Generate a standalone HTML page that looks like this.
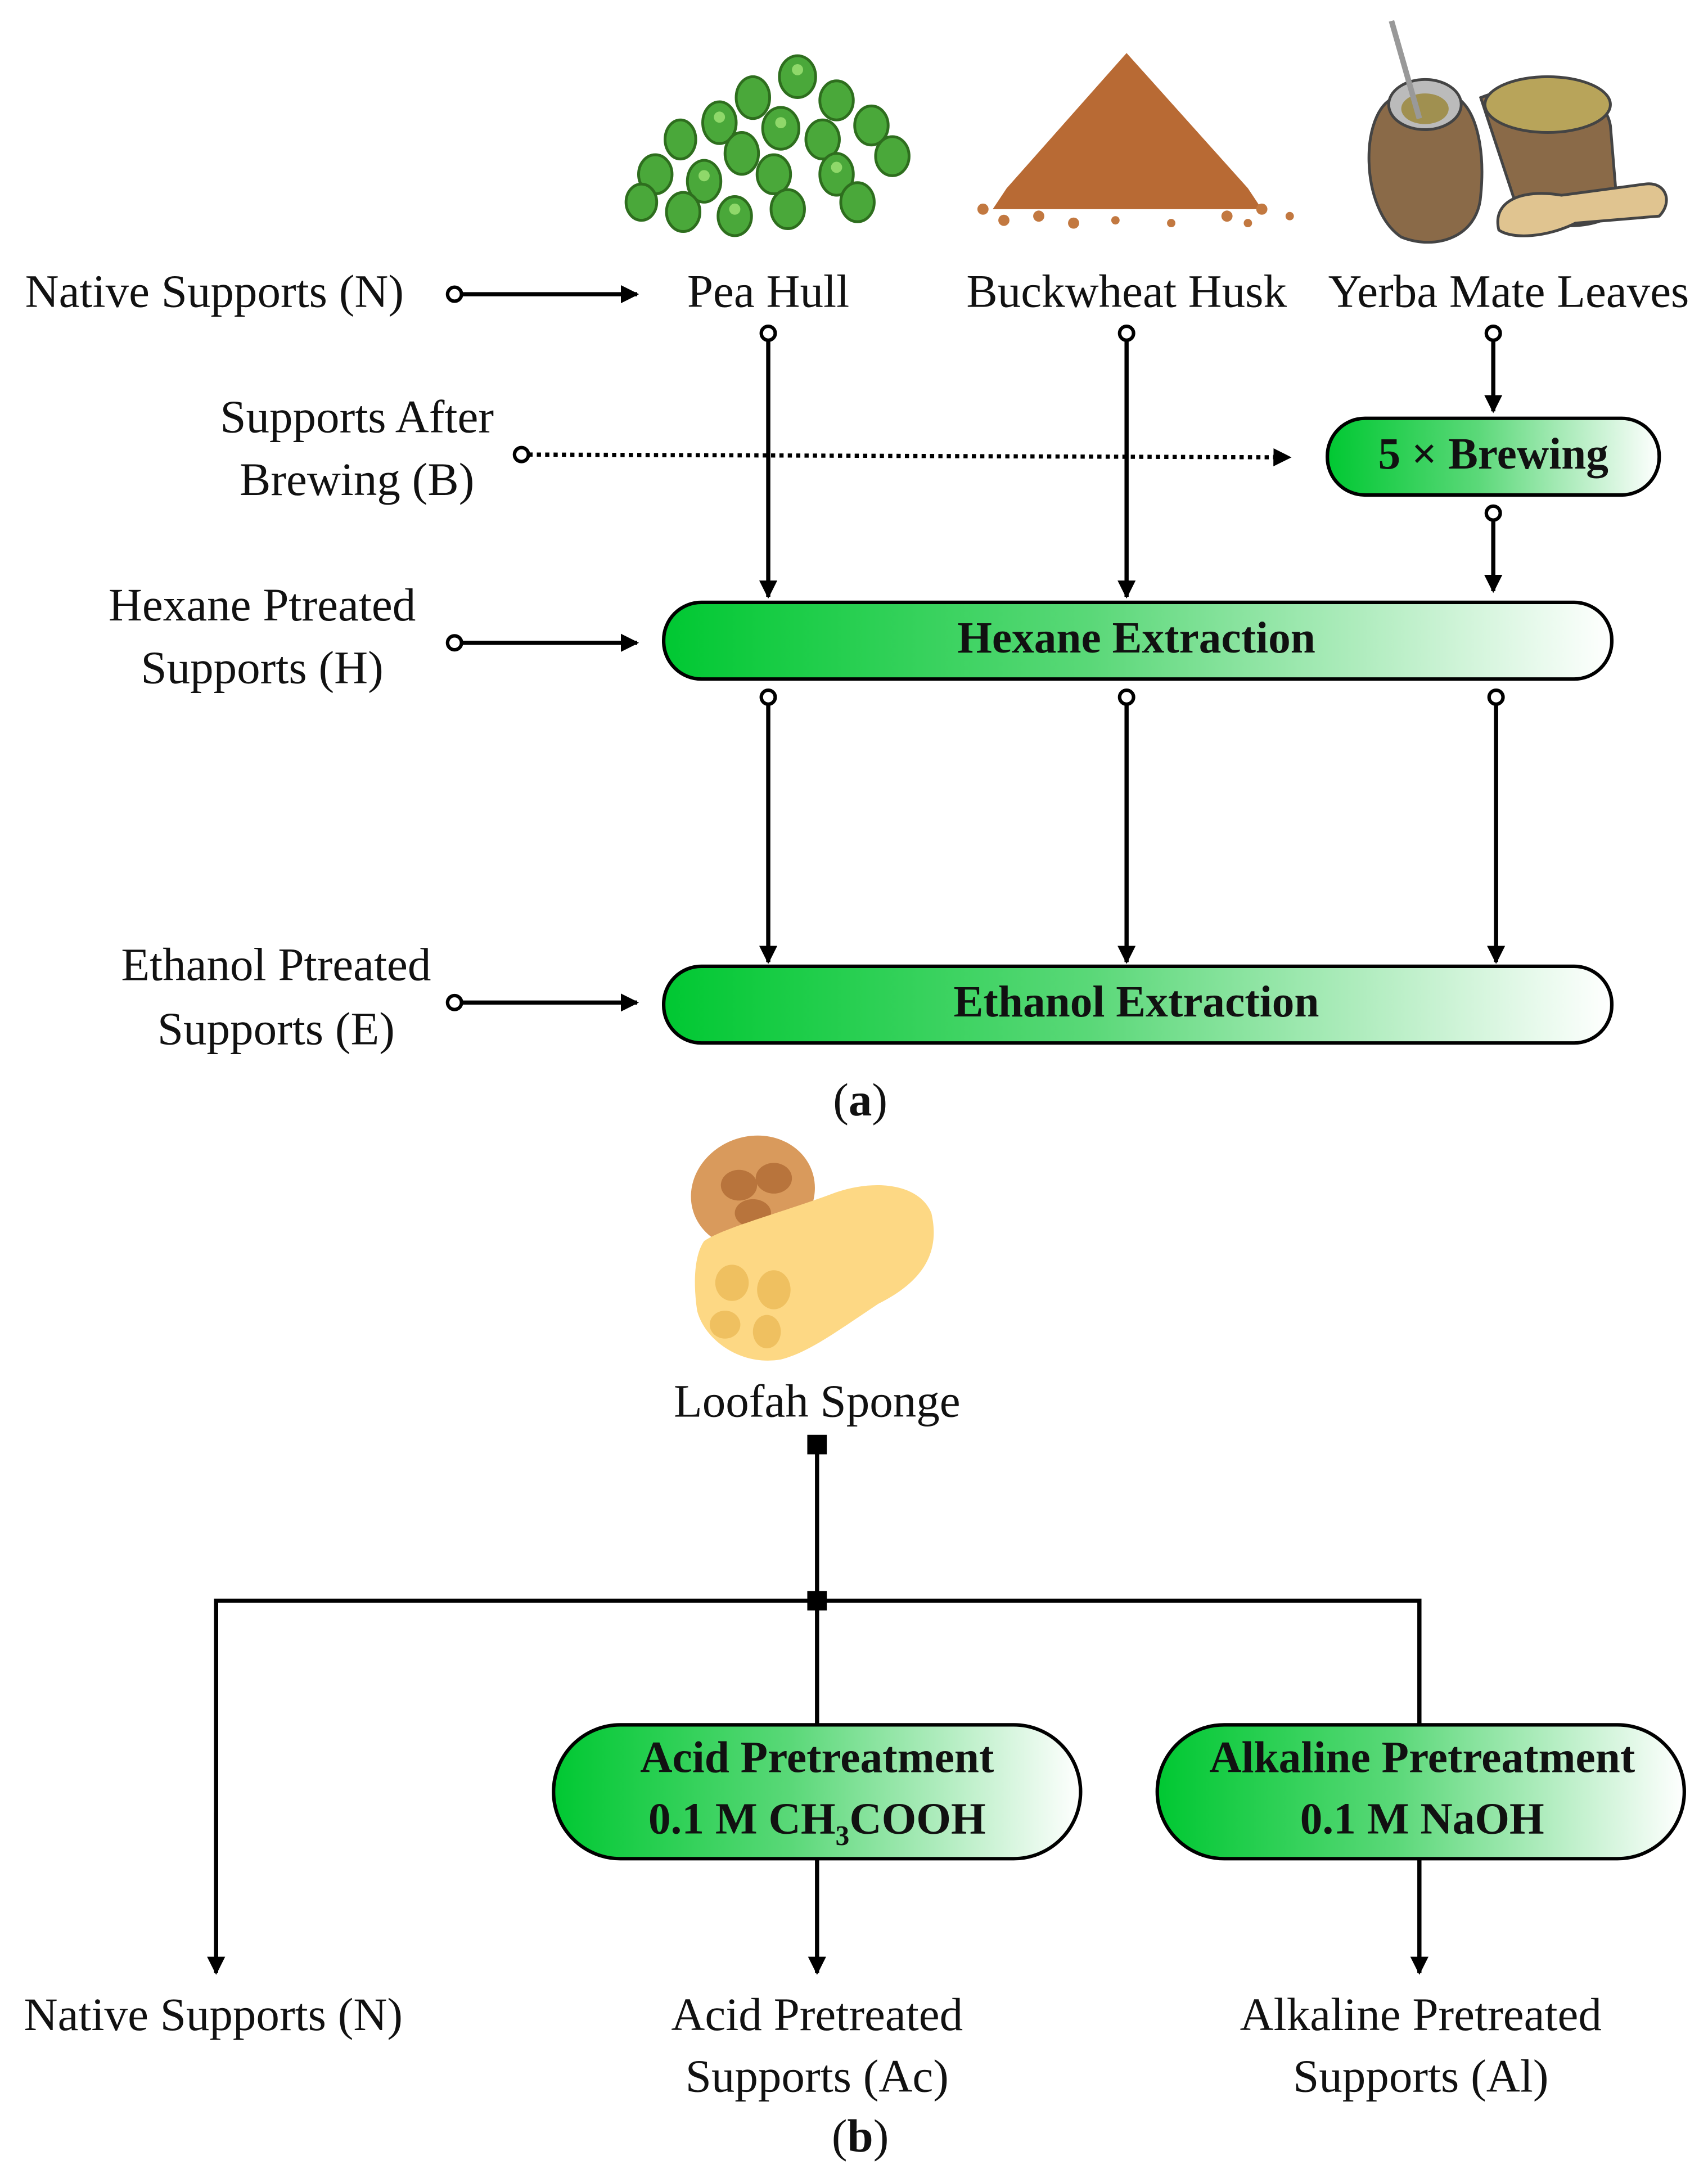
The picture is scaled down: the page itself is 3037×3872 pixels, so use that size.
<!DOCTYPE html>
<html><head><meta charset="utf-8"><style>
html,body{margin:0;padding:0;background:#fff;}
svg{display:block;}
text{font-family:"Liberation Serif",serif;fill:#111;}
.t{font-size:33.5px;}
.b{font-size:32px;font-weight:bold;}
</style></head><body>
<svg width="3037" height="3872" viewBox="0 0 1225 1562" preserveAspectRatio="none" xmlns="http://www.w3.org/2000/svg">
<defs>
<linearGradient id="g" x1="0" x2="1" y1="0" y2="0">
<stop offset="0" stop-color="#00c832"/><stop offset="0.45" stop-color="#5ad878"/><stop offset="1" stop-color="#ffffff"/>
</linearGradient>
<marker id="ah" viewBox="0 0 10 10" refX="9" refY="5" markerWidth="13" markerHeight="13" orient="auto" markerUnits="userSpaceOnUse"><path d="M0,0 L10,5 L0,10 z" fill="#000"/></marker>
</defs>
<rect width="1225" height="1562" fill="#fff"/>

<!-- peas -->
<g stroke="#2e6e1e" stroke-width="2" fill="#4aa83a">
<ellipse cx="572" cy="55" rx="13" ry="15"/><ellipse cx="540" cy="70" rx="12" ry="15"/><ellipse cx="600" cy="72" rx="12" ry="14"/>
<ellipse cx="516" cy="88" rx="12" ry="15"/><ellipse cx="560" cy="92" rx="13" ry="15"/><ellipse cx="590" cy="100" rx="12" ry="14"/><ellipse cx="625" cy="90" rx="12" ry="14"/>
<ellipse cx="488" cy="100" rx="11" ry="14"/><ellipse cx="532" cy="110" rx="12" ry="15"/><ellipse cx="640" cy="112" rx="12" ry="14"/>
<ellipse cx="470" cy="125" rx="12" ry="14"/><ellipse cx="505" cy="130" rx="12" ry="15"/><ellipse cx="555" cy="125" rx="12" ry="14"/><ellipse cx="600" cy="125" rx="12" ry="15"/>
<ellipse cx="460" cy="145" rx="11" ry="13"/><ellipse cx="490" cy="152" rx="12" ry="14"/><ellipse cx="527" cy="155" rx="12" ry="14"/><ellipse cx="565" cy="150" rx="12" ry="14"/><ellipse cx="615" cy="145" rx="12" ry="14"/>
</g>
<g fill="#8fd86a"><circle cx="572" cy="50" r="4"/><circle cx="516" cy="84" r="4"/><circle cx="560" cy="88" r="4"/><circle cx="505" cy="126" r="4"/><circle cx="600" cy="120" r="4"/><circle cx="527" cy="150" r="4"/></g>

<!-- buckwheat -->
<path d="M808,38 L895,135 L905,150 L712,150 L722,135 Z" fill="#b86a34"/>
<g fill="#c27840"><circle cx="705" cy="150" r="4"/><circle cx="720" cy="158" r="4"/><circle cx="745" cy="155" r="4"/><circle cx="770" cy="160" r="4"/><circle cx="800" cy="158" r="3"/><circle cx="840" cy="160" r="3"/><circle cx="880" cy="155" r="4"/><circle cx="905" cy="150" r="4"/><circle cx="895" cy="160" r="3"/><circle cx="925" cy="155" r="3"/></g>

<!-- yerba mate -->
<path d="M1062,70 C1100,55 1150,60 1155,90 L1160,150 C1150,165 1110,165 1090,155 Z" fill="#8a6a48" stroke="#444" stroke-width="2"/>
<ellipse cx="1110" cy="75" rx="45" ry="20" fill="#b8a45a" stroke="#444" stroke-width="2"/>
<path d="M1000,70 C975,80 975,150 1005,170 C1030,180 1060,170 1062,140 C1065,110 1060,80 1045,70 Z" fill="#8a6a48" stroke="#444" stroke-width="2"/>
<ellipse cx="1022" cy="75" rx="26" ry="18" fill="#bbb" stroke="#444" stroke-width="2"/>
<ellipse cx="1022" cy="78" rx="17" ry="11" fill="#a09050"/>
<line x1="998" y1="15" x2="1018" y2="85" stroke="#999" stroke-width="4"/>
<path d="M1075,165 C1070,145 1090,135 1120,140 L1180,132 C1195,130 1200,145 1190,155 L1130,160 C1110,170 1085,172 1075,165 Z" fill="#e0c490" stroke="#444" stroke-width="2"/>

<!-- top labels -->
<text class="t" x="18" y="220">Native Supports (N)</text>
<text class="t" x="551" y="220" text-anchor="middle">Pea Hull</text>
<text class="t" x="808" y="220" text-anchor="middle">Buckwheat Husk</text>
<text class="t" x="1082" y="220" text-anchor="middle">Yerba Mate Leaves</text>

<g stroke="#000" stroke-width="3" fill="none">
<line x1="330" y1="211" x2="457" y2="211" marker-end="url(#ah)"/>
<line x1="551" y1="244" x2="551" y2="428" marker-end="url(#ah)"/>
<line x1="808" y1="244" x2="808" y2="428" marker-end="url(#ah)"/>
<line x1="1071" y1="244" x2="1071" y2="295" marker-end="url(#ah)"/>
<line x1="379" y1="326" x2="925" y2="328" stroke-dasharray="3,3" marker-end="url(#ah)"/>
<line x1="1071" y1="373" x2="1071" y2="424" marker-end="url(#ah)"/>
<line x1="330" y1="461" x2="457" y2="461" marker-end="url(#ah)"/>
<line x1="551" y1="505" x2="551" y2="690" marker-end="url(#ah)"/>
<line x1="808" y1="505" x2="808" y2="690" marker-end="url(#ah)"/>
<line x1="1073" y1="505" x2="1073" y2="690" marker-end="url(#ah)"/>
<line x1="330" y1="719" x2="457" y2="719" marker-end="url(#ah)"/>
</g>
<g stroke="#000" stroke-width="2.5" fill="#fff">
<circle cx="326" cy="211" r="5"/><circle cx="551" cy="239" r="5"/><circle cx="808" cy="239" r="5"/><circle cx="1071" cy="239" r="5"/>
<circle cx="374" cy="326" r="5"/><circle cx="1071" cy="368" r="5"/><circle cx="326" cy="461" r="5"/>
<circle cx="551" cy="500" r="5"/><circle cx="808" cy="500" r="5"/><circle cx="1073" cy="500" r="5"/><circle cx="326" cy="719" r="5"/>
</g>

<text class="t" x="256" y="310" text-anchor="middle">Supports After</text>
<text class="t" x="256" y="355" text-anchor="middle">Brewing (B)</text>
<text class="t" x="188" y="445" text-anchor="middle">Hexane Ptreated</text>
<text class="t" x="188" y="490" text-anchor="middle">Supports (H)</text>
<text class="t" x="198" y="703" text-anchor="middle">Ethanol Ptreated</text>
<text class="t" x="198" y="749" text-anchor="middle">Supports (E)</text>

<rect x="952" y="300" width="238" height="55" rx="27" fill="url(#g)" stroke="#000" stroke-width="2.5"/>
<text class="b" x="1071" y="336" text-anchor="middle">5 × Brewing</text>
<rect x="476" y="432" width="680" height="55" rx="27" fill="url(#g)" stroke="#000" stroke-width="2.5"/>
<text class="b" x="815" y="468" text-anchor="middle">Hexane Extraction</text>
<rect x="476" y="693" width="680" height="55" rx="27" fill="url(#g)" stroke="#000" stroke-width="2.5"/>
<text class="b" x="815" y="729" text-anchor="middle">Ethanol Extraction</text>

<text class="t" x="617" y="800" text-anchor="middle">(<tspan font-weight="bold">a</tspan>)</text>

<!-- loofah -->
<ellipse cx="540" cy="855" rx="45" ry="40" fill="#d99a5c" transform="rotate(-20 540 855)"/>
<ellipse cx="530" cy="850" rx="13" ry="11" fill="#b8743c"/><ellipse cx="555" cy="845" rx="13" ry="11" fill="#b8743c"/><ellipse cx="540" cy="870" rx="13" ry="10" fill="#b8743c"/>
<path d="M505,890 C520,880 560,870 600,855 C630,845 660,850 668,870 C675,900 660,920 630,935 C600,955 580,970 560,975 C530,980 505,960 500,940 C497,920 498,900 505,890 Z" fill="#fdd884"/>
<g fill="#efc060"><ellipse cx="525" cy="920" rx="12" ry="13"/><ellipse cx="555" cy="925" rx="12" ry="14"/><ellipse cx="520" cy="950" rx="11" ry="10"/><ellipse cx="550" cy="955" rx="10" ry="12"/></g>

<text class="t" x="586" y="1016" text-anchor="middle">Loofah Sponge</text>

<g stroke="#000" stroke-width="3" fill="none">
<line x1="586" y1="1036" x2="586" y2="1148"/>
<polyline points="155,1412 155,1148 1018,1148 1018,1237"/>
<line x1="586" y1="1148" x2="586" y2="1237"/>
<line x1="155" y1="1300" x2="155" y2="1415" marker-end="url(#ah)"/>
<line x1="586" y1="1333" x2="586" y2="1415" marker-end="url(#ah)"/>
<line x1="1018" y1="1333" x2="1018" y2="1415" marker-end="url(#ah)"/>
</g>
<rect x="579" y="1029" width="14" height="14" fill="#000"/>
<rect x="579" y="1141" width="14" height="14" fill="#000"/>

<rect x="397" y="1237" width="378" height="96" rx="48" fill="url(#g)" stroke="#000" stroke-width="2.5"/>
<text class="b" x="586" y="1271" text-anchor="middle">Acid Pretreatment</text>
<text class="b" x="586" y="1315" text-anchor="middle">0.1 M CH<tspan font-size="20" dy="8">3</tspan><tspan dy="-8">COOH</tspan></text>
<rect x="830" y="1237" width="378" height="96" rx="48" fill="url(#g)" stroke="#000" stroke-width="2.5"/>
<text class="b" x="1020" y="1271" text-anchor="middle">Alkaline Pretreatment</text>
<text class="b" x="1020" y="1315" text-anchor="middle">0.1 M NaOH</text>

<text class="t" x="153" y="1456" text-anchor="middle">Native Supports (N)</text>
<text class="t" x="586" y="1456" text-anchor="middle">Acid Pretreated</text>
<text class="t" x="586" y="1500" text-anchor="middle">Supports (Ac)</text>
<text class="t" x="1019" y="1456" text-anchor="middle">Alkaline Pretreated</text>
<text class="t" x="1019" y="1500" text-anchor="middle">Supports (Al)</text>
<text class="t" x="617" y="1543" text-anchor="middle">(<tspan font-weight="bold">b</tspan>)</text>
</svg>
</body></html>
